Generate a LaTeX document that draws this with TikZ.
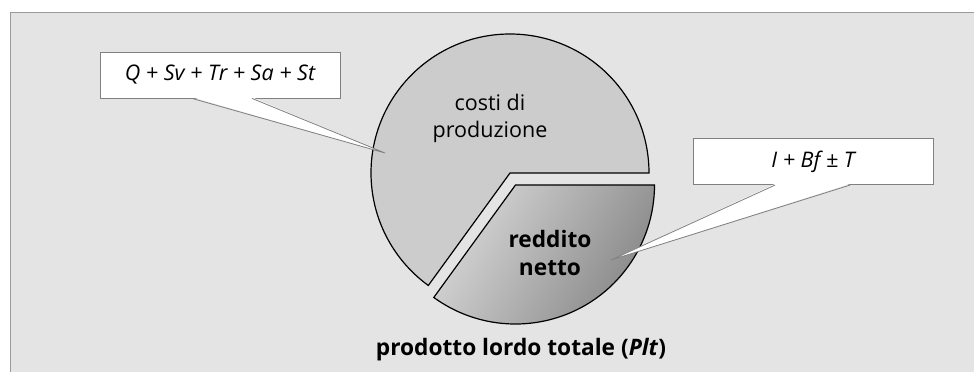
\documentclass[tikz,border=0pt]{standalone}
\usepackage{fontspec}
\setmainfont{Open Sans}
\usetikzlibrary{calc}
\definecolor{panel}{HTML}{E4E4E4}
\definecolor{rim}{HTML}{9A9A9A}
\definecolor{costi}{HTML}{CCCCCC}
\definecolor{callrim}{HTML}{808080}

\begin{document}
\begin{tikzpicture}[x=1pt, y=1pt,
  slice/.style={draw=black, line width=1.2pt},
  formula/.style={draw=callrim, fill=white, line width=0.8pt,
    minimum width=240pt, minimum height=46pt,
    font=\fontsize{21.5}{25}\selectfont\itshape},
  pointer/.style={draw=callrim, line width=0.8pt},
  piece/.style={align=center, font=\fontsize{21.5}{27}\selectfont},
  caption/.style={font=\fontsize{22.7}{26}\selectfont\bfseries}]
\useasboundingbox (0,0) rectangle (974,372);
\fill[panel] (10.5,0) rectangle (974,359.5);
\draw[rim, line width=1.6pt] (10.5,0) -- (10.5,359.5) -- (974,359.5);

\coordinate (centre) at (510,199);
\draw[slice, fill=costi]
       (centre)
  -- ++(0:139)
  arc[start angle=0, end angle=234, radius=139]
  -- cycle;
\draw[slice, left color=black!16, right color=black!48, shading angle=60]
       ([shift={(5.5,-12)}]centre) coordinate(split)
  -- ++(234:139)
  arc[start angle=234, end angle=360, radius=139]
  -- cycle;

\node[piece] (costs) at (490,253.5) {costi di\\produzione};
\node[piece, font=\fontsize{22.7}{28}\selectfont\bfseries] (net) at (550,119.5) {reddito\\netto};
\node[caption] (plt) at (521,22) {prodotto lordo totale (\textit{Plt})};

\node[formula] (qbox) at (220,297) {Q + Sv + Tr + Sa + St};
\coordinate (qtip) at (385,219);
\fill[white] ([shift={(-28,1.2)}]qbox.south) -- (qtip) -- ([shift={(32,1.2)}]qbox.south) -- cycle;
\draw[pointer] ([xshift=-28pt]qbox.south) -- (qtip) -- ([xshift=32pt]qbox.south);

\node[formula] (ibox) at (813,210.3) {I + Bf ± T};
\coordinate (itip) at (611,112);
\fill[white] ([shift={(-38,1.2)}]ibox.south) -- (itip) -- ([shift={(37,1.2)}]ibox.south) -- cycle;
\draw[pointer] ([xshift=-38pt]ibox.south) -- (itip) -- ([xshift=37pt]ibox.south);
\end{tikzpicture}
\end{document}
